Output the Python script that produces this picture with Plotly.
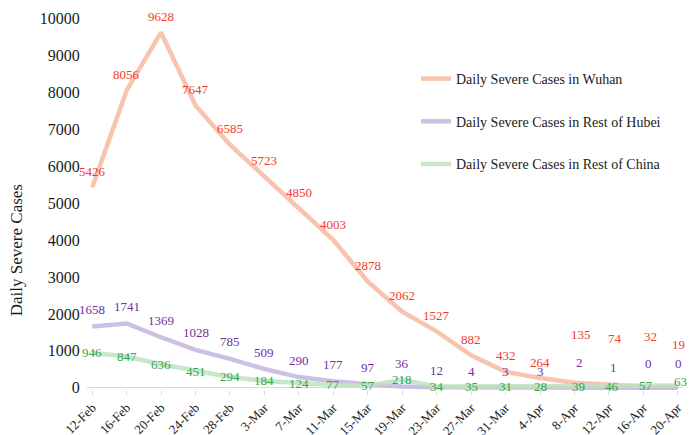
import plotly.graph_objects as go

dates = ["12-Feb", "16-Feb", "20-Feb", "24-Feb", "28-Feb", "3-Mar", "7-Mar", "11-Mar",
         "15-Mar", "19-Mar", "23-Mar", "27-Mar", "31-Mar", "4-Apr", "8-Apr", "12-Apr",
         "16-Apr", "20-Apr"]
wuhan = [5426, 8056, 9628, 7647, 6585, 5723, 4850, 4003, 2878, 2062, 1527, 882, 432, 264, 135, 74, 32, 19]
rest_hubei = [1658, 1741, 1369, 1028, 785, 509, 290, 177, 97, 36, 12, 4, 3, 3, 2, 1, 0, 0]
rest_china = [946, 847, 636, 451, 294, 184, 124, 77, 57, 218, 34, 35, 31, 28, 39, 46, 57, 63]
y_ticks = [0, 1000, 2000, 3000, 4000, 5000, 6000, 7000, 8000, 9000, 10000]
y_tick_labels = [str(v) for v in y_ticks]

# label offsets in pixels (styling of data labels)
wuhan_dy = [16] * 14 + [48, 47, 50, 43]
wuhan_dx = [0] * 14 + [7, 6, 7, 1]
hubei_dy = [17] * 9 + [23, 17, 16, 16, 16, 25, 20, 24, 24]
hubei_dx = [0] * 14 + [5, 5, 5, 1]
china_dy = [0] * 17 + [4]
china_dx = [0] * 14 + [4, 3, 3, 3]

FONT = "Liberation Serif, Times New Roman, serif"

series = [
    ("Daily Severe Cases in Wuhan", wuhan, "rgba(248,183,155,0.82)", "#F4392B", wuhan_dx, wuhan_dy),
    ("Daily Severe Cases in Rest of Hubei", rest_hubei, "rgba(196,182,222,0.85)", "#7030A0", hubei_dx, hubei_dy),
    ("Daily Severe Cases in Rest of China", rest_china, "rgba(190,226,190,0.85)", "#2EA84A", china_dx, china_dy),
]

fig = go.Figure()
annotations = []
for i, (name, vals, lc, tc, dx, dy) in enumerate(series):
    fig.add_trace(go.Scatter(
        x=dates, y=vals, mode="lines", name=name,
        line=dict(color=lc, width=4.5), legendgroup=str(i),
    ))
    for d, v, sx, sy in zip(dates, vals, dx, dy):
        annotations.append(dict(
            x=d, y=v, xref="x", yref="y", text=str(v), showarrow=False,
            xshift=sx, yshift=sy, xanchor="center", yanchor="middle",
            font=dict(family=FONT, size=13, color=tc),
        ))

annotations.append(dict(
    xref="paper", yref="paper", x=-0.119, y=0.373, text="Daily Severe Cases",
    textangle=-90, showarrow=False, xanchor="center", yanchor="middle",
    font=dict(family=FONT, size=17, color="#1a1a1a"),
))

fig.update_layout(
    width=697, height=435,
    margin=dict(l=87, r=14, t=15, b=45),
    paper_bgcolor="white", plot_bgcolor="white",
    font=dict(family=FONT, color="#1a1a1a"),
    showlegend=True,
    legend=dict(
        x=0.552, y=(390 - 63) / 375, xanchor="left", yanchor="top",
        font=dict(family=FONT, size=14, color="#1a1a1a"),
        tracegroupgap=21.5, bgcolor="rgba(0,0,0,0)",
    ),
    annotations=annotations,
)
fig.update_xaxes(
    type="category", range=[-0.15, 17.15], showgrid=False, showline=False,
    automargin=False,
    ticks="outside", ticklen=4, tickcolor="#d9d9d9", tickangle=-45,
    tickfont=dict(family=FONT, size=13, color="#1a1a1a"),
)
fig.update_yaxes(
    range=[-60, 10100], tickvals=y_ticks, ticktext=y_tick_labels,
    showgrid=False, showline=False, automargin=False,
    zeroline=True, zerolinecolor="#d9d9d9", zerolinewidth=1,
    ticks="outside", ticklen=3, tickcolor="rgba(0,0,0,0)",
    tickfont=dict(family=FONT, size=16, color="#1a1a1a"),
)

fig.write_html("out.html", config={"displayModeBar": False},
               post_script="document.body.style.margin='0';")
